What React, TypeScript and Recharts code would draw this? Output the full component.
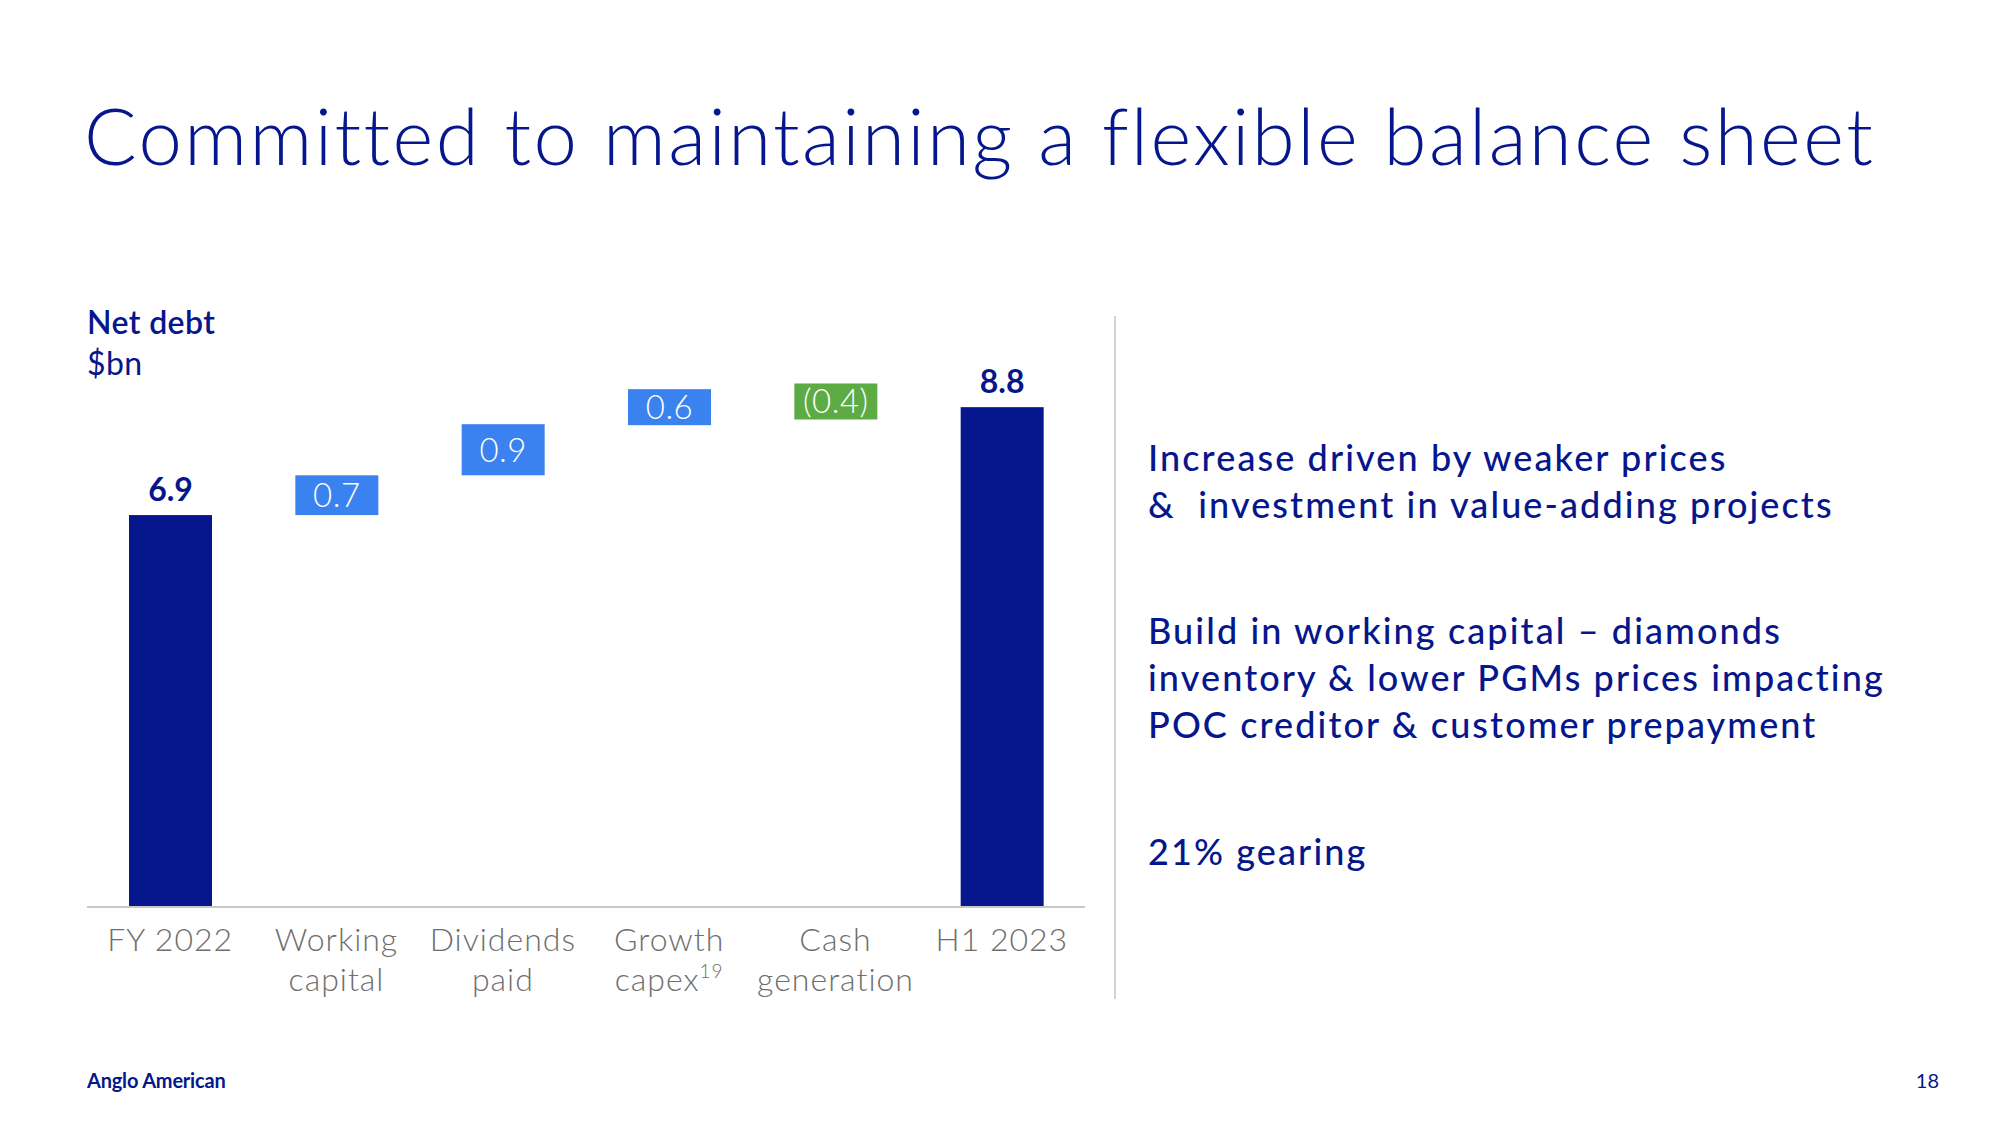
import { BarChart, Bar, XAxis, YAxis, Cell, LabelList } from 'recharts';

const NAVY = '#06168c';
const BLUE = '#3a82f0';
const GREEN = '#5dab45';

const CATEGORIES = ['FY 2022', 'Working capital', 'Dividends paid', 'Growth capex', 'Cash generation', 'H1 2023'];
const TICK_LINES = [['FY 2022'], ['Working', 'capital'], ['Dividends', 'paid'], ['Growth', 'capex'], ['Cash', 'generation'], ['H1 2023']];
const TICK_SUPER = ['', '', '', '19', '', ''];
const VALUES = [6.9, 0.7, 0.9, 0.6, -0.4, 8.8];
const IS_TOTAL = [true, false, false, false, false, true];
const VALUE_LABELS = ['6.9', '0.7', '0.9', '0.6', '(0.4)', '8.8'];

const FONT = 'Lato, "Noto Sans", sans-serif';

// waterfall ranges: totals start at zero, deltas float on the running total
let running = 0;
const data = CATEGORIES.map((name, i) => {
  const v = VALUES[i];
  let range: [number, number];
  if (IS_TOTAL[i]) {
    range = [0, v];
    running = v;
  } else {
    const next = running + v;
    range = [Math.min(running, next), Math.max(running, next)];
    running = next;
  }
  return { name, range, label: VALUE_LABELS[i], total: IS_TOTAL[i], neg: v < 0 };
});

function WaterfallShape(props: any) {
  const { x, y, width, height, fill, payload } = props;
  let top = y;
  let h = height;
  // small movements get a box big enough for the label
  if (!payload.total && h < 36) {
    top = y + h / 2 - 18;
    h = 36;
  }
  return <rect x={x} y={top} width={width} height={h} fill={fill} />;
}

function ValueLabel(props: any) {
  const { x, y, width, height, index } = props;
  const row = data[index];
  const cx = x + width / 2;
  if (row.total) {
    return (
      <text x={cx} y={y - 14} textAnchor="middle" fill={NAVY} fontSize={32} fontWeight={700} fontFamily={FONT}>
        {row.label}
      </text>
    );
  }
  return (
    <text x={cx} y={y + height / 2} dy="0.36em" textAnchor="middle" fill="#fff" fontSize={33} fontWeight={300} fontFamily={FONT} letterSpacing={0.5}>
      {row.label}
    </text>
  );
}

function CategoryTick(props: any) {
  const { x, y, index } = props;
  const lines = TICK_LINES[index];
  return (
    <text x={x} y={y} textAnchor="middle" fill="#6e6e6e" fontSize={32} fontWeight={300} fontFamily={FONT} letterSpacing={1}>
      {lines.map((line, i) => (
        <tspan key={i} x={x} y={y + 36 + i * 40}>
          {line}
          {i === lines.length - 1 && TICK_SUPER[index] ? (
            <tspan fontSize={19} dy={-13}>{TICK_SUPER[index]}</tspan>
          ) : null}
        </tspan>
      ))}
    </text>
  );
}

export default function App() {
  const bodyText = { position: 'absolute' as const, left: 1148, color: NAVY, fontSize: 36, fontWeight: 500, lineHeight: '47px', whiteSpace: 'nowrap' as const, letterSpacing: 2.1 };
  return (
    <div style={{ position: 'absolute', left: 0, top: 0, width: 2000, height: 1125, background: '#fff', fontFamily: FONT, overflow: 'hidden' }}>
      <div style={{ position: 'absolute', left: 84, top: 96, fontSize: 78, color: NAVY, fontWeight: 300, lineHeight: 1, whiteSpace: 'nowrap', letterSpacing: 2.4 }}>
        Committed to maintaining a flexible balance sheet
      </div>

      <div style={{ position: 'absolute', left: 87, top: 301, color: NAVY, fontSize: 32, lineHeight: '41px', letterSpacing: 0.4 }}>
        <div style={{ fontWeight: 600 }}>Net debt</div>
        <div style={{ fontWeight: 400 }}>$bn</div>
      </div>

      <div style={{ position: 'absolute', left: 87, top: 250 }}>
        <BarChart width={998} height={800} data={data} margin={{ top: 89, right: 0, left: 0, bottom: 43 }}>
          <YAxis hide domain={[0, 10]} />
          <XAxis
            dataKey="name"
            height={100}
            axisLine={{ stroke: '#c8c8c8', strokeWidth: 2 }}
            tickLine={false}
            interval={0}
            tick={<CategoryTick />}
          />
          <Bar dataKey="range" barSize={83} isAnimationActive={false} shape={<WaterfallShape />}>
            {data.map((d, i) => (
              <Cell key={i} fill={d.total ? NAVY : d.neg ? GREEN : BLUE} />
            ))}
            <LabelList dataKey="label" content={<ValueLabel />} />
          </Bar>
        </BarChart>
      </div>

      <div style={{ position: 'absolute', left: 1114, top: 316, width: 1.5, height: 683, background: '#d3d3d3' }} />

      <div style={{ ...bodyText, top: 434 }}>
        Increase driven by weaker prices<br />&amp;&nbsp; investment in value-adding projects
      </div>
      <div style={{ ...bodyText, top: 607 }}>
        Build in working capital – diamonds<br />inventory &amp; lower PGMs prices impacting<br />POC creditor &amp; customer prepayment
      </div>
      <div style={{ ...bodyText, top: 828 }}>21% gearing</div>

      <div style={{ position: 'absolute', left: 87, top: 1068, color: NAVY, fontSize: 20, fontWeight: 700, letterSpacing: -0.2 }}>
        Anglo American
      </div>
      <div style={{ position: 'absolute', right: 61, top: 1068, color: NAVY, fontSize: 20, fontWeight: 400 }}>18</div>
    </div>
  );
}
